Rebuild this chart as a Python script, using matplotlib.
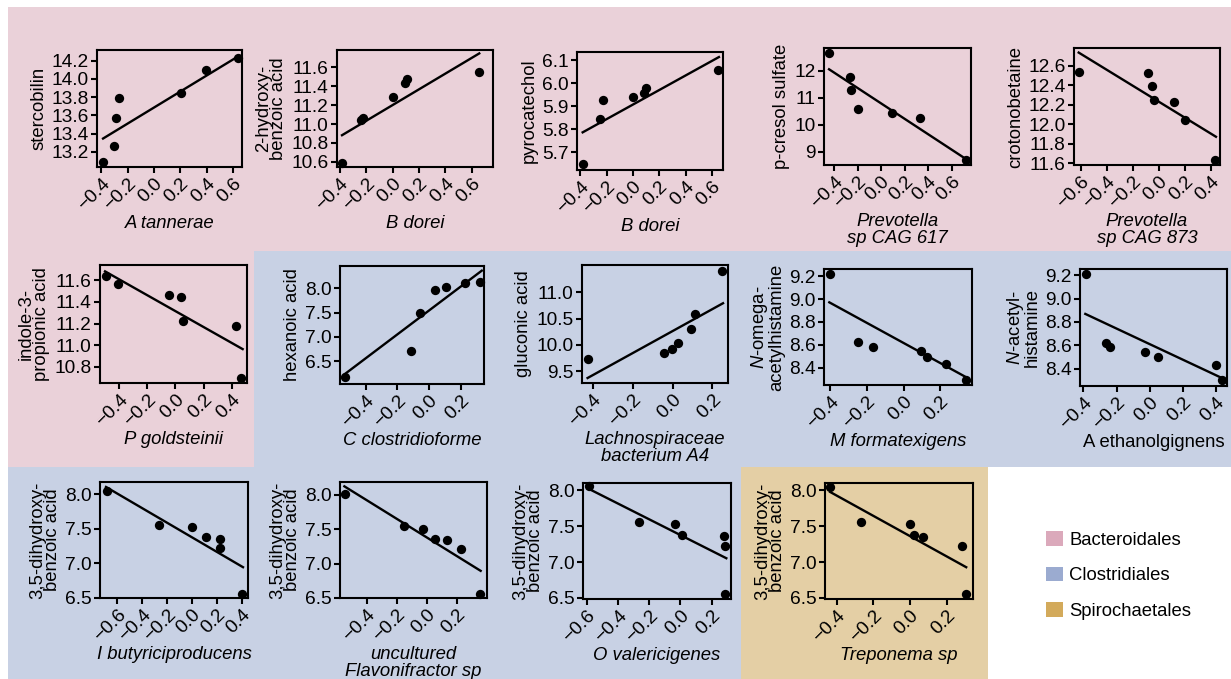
import numpy as np
import matplotlib
matplotlib.use('Agg')
import matplotlib.pyplot as plt
from matplotlib.patches import Rectangle, Patch

plt.rcParams['font.family'] = ['Liberation Sans', 'DejaVu Sans']
plt.rcParams['mathtext.fontset'] = 'custom'
plt.rcParams['mathtext.it'] = 'Liberation Sans:italic'
plt.rcParams['mathtext.rm'] = 'Liberation Sans'

# Data
metabolites = ['stercobilin', '2-hydroxy-\nbenzoic acid', 'pyrocatechol', 'p-cresol sulfate',
               'crotonobetaine', 'indole-3-\npropionic acid', 'hexanoic acid', 'gluconic acid',
               r'$\it{N}$-omega-' + '\nacetylhistamine', r'$\it{N}$-acetyl-' + '\nhistamine',
               '3,5-dihydroxy-\nbenzoic acid', '3,5-dihydroxy-\nbenzoic acid',
               '3,5-dihydroxy-\nbenzoic acid', '3,5-dihydroxy-\nbenzoic acid']
taxa = ['A tannerae', 'B dorei', 'B dorei', 'Prevotella\nsp CAG 617', 'Prevotella\nsp CAG 873',
        'P goldsteinii', 'C clostridioforme', 'Lachnospiraceae\nbacterium A4', 'M formatexigens',
        'A ethanolgignens', 'I butyriciproducens', 'uncultured\nFlavonifractor sp',
        'O valericigenes', 'Treponema sp']
taxa_italic = [True] * 9 + [False] + [True] * 4
order = ['Bacteroidales'] * 6 + ['Clostridiales'] * 7 + ['Spirochaetales']

x_vals = [
    [-0.387, -0.301, -0.291, -0.268, 0.205, 0.395, 0.635],
    [-0.382, -0.24, -0.223, 0.0, 0.096, 0.109, 0.651],
    [-0.382, -0.248, -0.23, 0.0, 0.086, 0.101, 0.648],
    [-0.443, -0.263, -0.257, -0.194, 0.091, 0.331, 0.72],
    [-0.613, -0.082, -0.049, -0.038, 0.118, 0.203, 0.433],
    [-0.498, -0.412, -0.048, 0.036, 0.057, 0.431, 0.467],
    [-0.53, -0.113, -0.058, 0.036, 0.103, 0.227, 0.321],
    [-0.427, -0.043, -0.003, 0.027, 0.093, 0.113, 0.25],
    [-0.4, -0.249, -0.164, 0.093, 0.127, 0.229, 0.34],
    [-0.384, -0.265, -0.237, -0.03, 0.051, 0.401, 0.435],
    [-0.685, -0.264, -0.005, 0.115, 0.221, 0.221, 0.4],
    [-0.543, -0.152, -0.026, 0.055, 0.134, 0.226, 0.349],
    [-0.587, -0.265, -0.032, 0.013, 0.28, 0.284, 0.288],
    [-0.436, -0.269, 0.0, 0.018, 0.069, 0.282, 0.304],
]
y_vals = [
    [13.09, 13.262, 13.574, 13.786, 13.848, 14.094, 14.226],
    [10.593, 11.047, 11.068, 11.287, 11.427, 11.47, 11.544],
    [5.646, 5.846, 5.926, 5.938, 5.959, 5.978, 6.059],
    [12.667, 11.765, 11.309, 10.593, 10.444, 10.235, 8.679],
    [12.542, 12.528, 12.399, 12.252, 12.231, 12.05, 11.631],
    [11.643, 11.563, 11.465, 11.443, 11.222, 11.175, 10.698],
    [6.171, 6.712, 7.486, 7.966, 8.034, 8.11, 8.123],
    [9.734, 9.842, 9.918, 10.038, 10.304, 10.582, 11.411],
    [9.217, 8.623, 8.586, 8.551, 8.499, 8.432, 8.296],
    [9.211, 8.623, 8.583, 8.546, 8.497, 8.429, 8.3],
    [8.048, 7.558, 7.519, 7.38, 7.356, 7.221, 6.558],
    [8.014, 7.538, 7.505, 7.356, 7.341, 7.216, 6.562],
    [8.055, 7.557, 7.525, 7.377, 7.359, 7.225, 6.56],
    [8.046, 7.562, 7.525, 7.377, 7.354, 7.225, 6.56],
]
# regression line ends
fit_x = [[-0.387, 0.635], [-0.382, 0.656], [-0.382, 0.653], [-0.443, 0.72], [-0.615, 0.438],
         [-0.502, 0.479], [-0.53, 0.33], [-0.427, 0.253], [-0.404, 0.342], [-0.388, 0.429],
         [-0.691, 0.408], [-0.547, 0.354], [-0.591, 0.295], [-0.436, 0.305]]
fit_y = [[13.347, 14.244], [10.882, 11.744], [5.786, 6.114], [12.06, 8.728], [12.737, 11.873],
         [11.683, 10.963], [6.24, 8.363], [9.367, 10.791], [8.971, 8.319], [8.869, 8.323],
         [8.106, 6.942], [8.12, 6.894], [8.023, 7.054], [7.977, 6.929]]

x_ticks = [[-0.4, -0.2, 0.0, 0.2, 0.4, 0.6]] * 4 + [[-0.6, -0.4, -0.2, 0.0, 0.2, 0.4],
           [-0.4, -0.2, 0.0, 0.2, 0.4], [-0.4, -0.2, 0.0, 0.2], [-0.4, -0.2, 0.0, 0.2],
           [-0.4, -0.2, 0.0, 0.2], [-0.4, -0.2, 0.0, 0.2, 0.4],
           [-0.6, -0.4, -0.2, 0.0, 0.2, 0.4], [-0.4, -0.2, 0.0, 0.2],
           [-0.6, -0.4, -0.2, 0.0, 0.2], [-0.4, -0.2, 0.0, 0.2]]
y_ticks = [[13.2, 13.4, 13.6, 13.8, 14.0, 14.2], [10.6, 10.8, 11.0, 11.2, 11.4, 11.6],
           [5.7, 5.8, 5.9, 6.0, 6.1], [9, 10, 11, 12], [11.6, 11.8, 12.0, 12.2, 12.4, 12.6],
           [10.8, 11.0, 11.2, 11.4, 11.6], [6.5, 7.0, 7.5, 8.0], [9.5, 10.0, 10.5, 11.0],
           [8.4, 8.6, 8.8, 9.0, 9.2], [8.4, 8.6, 8.8, 9.0, 9.2]] + [[6.5, 7.0, 7.5, 8.0]] * 4
x_lims = [(-0.433, 0.668), (-0.42, 0.76), (-0.425, 0.684), (-0.486, 0.763), (-0.651, 0.469),
          (-0.538, 0.51), (-0.561, 0.344), (-0.455, 0.278), (-0.433, 0.373), (-0.42, 0.465),
          (-0.739, 0.448), (-0.576, 0.396), (-0.626, 0.325), (-0.464, 0.342)]
y_lims = [(13.035, 14.317), (10.547, 11.78), (5.622, 6.136), (8.506, 12.85), (11.583, 12.784),
          (10.649, 11.742), (6.034, 8.459), (9.272, 11.519), (8.252, 9.261), (8.251, 9.254),
          (6.495, 8.178), (6.5, 8.183), (6.486, 8.102), (6.486, 8.102)]

# panel boxes in pixels: left, top, right, bottom
boxes = [(97, 50, 242, 167), (337, 50, 493, 167), (577, 52, 723, 170), (824, 48, 971, 165),
         (1074, 48, 1220, 165), (100, 265, 247, 383), (340, 266, 484, 384), (582, 265, 728, 383),
         (824, 269, 972, 385), (1080, 269, 1227, 386), (100, 482, 248, 598), (340, 482, 487, 598),
         (583, 483, 731, 599), (825, 483, 973, 599)]

bg_col = {'Bacteroidales': '#ead1d9', 'Clostridiales': '#c8d1e4', 'Spirochaetales': '#e4cfa5'}
sw_col = {'Bacteroidales': '#dba9bb', 'Clostridiales': '#9babd0', 'Spirochaetales': '#d3aa5b'}

W, H = 1231, 679
fig = plt.figure(figsize=(W / 100, H / 100), dpi=100, facecolor='white')

def px_rect(x0, y0, x1, y1, c):
    fig.patches.append(Rectangle((x0 / W, 1 - y1 / H), (x1 - x0) / W, (y1 - y0) / H,
                                 transform=fig.transFigure, facecolor=c, edgecolor='none', zorder=-5))

px_rect(8, 7, 1231, 251, bg_col['Bacteroidales'])
px_rect(8, 251, 254, 467, bg_col['Bacteroidales'])
px_rect(254, 251, 1231, 467, bg_col['Clostridiales'])
px_rect(8, 467, 741, 679, bg_col['Clostridiales'])
px_rect(741, 467, 988, 679, bg_col['Spirochaetales'])

for i in range(len(boxes)):
    l, t, r, b = boxes[i]
    ax = fig.add_axes([l / W, 1 - b / H, (r - l) / W, (b - t) / H])
    ax.patch.set_alpha(0)
    ax.scatter(x_vals[i], y_vals[i], s=45, c='black', zorder=3, clip_on=False, linewidths=0)
    ax.plot(fit_x[i], fit_y[i], c='black', lw=1.7, zorder=2)
    ax.set_xlim(*x_lims[i])
    ax.set_ylim(*y_lims[i])
    ax.set_xticks(x_ticks[i])
    ax.set_yticks(y_ticks[i])
    for sp in ax.spines.values():
        sp.set_linewidth(1.5)
    ax.tick_params(direction='out', length=4, width=1.5, labelsize=13.8, pad=2)
    for lab in ax.get_xticklabels():
        lab.set_rotation(45)
        lab.set_ha('right')
        lab.set_rotation_mode('anchor')
    ax.set_ylabel(metabolites[i], fontsize=13.3, linespacing=0.85, labelpad=3)
    ax.set_xlabel(taxa[i], fontsize=13.3, linespacing=0.95, labelpad=1,
                  style='italic' if taxa_italic[i] else 'normal')

handles = [Patch(facecolor=sw_col[k], edgecolor='none', label=k) for k in bg_col]
fig.legend(handles=handles, loc='upper left', bbox_to_anchor=(1037 / W, 1 - 522 / H),
           frameon=False, fontsize=13.3, handlelength=0.9, handleheight=0.85,
           handletextpad=0.35, labelspacing=0.95, borderpad=0)

fig.savefig('out.png', dpi=100)
